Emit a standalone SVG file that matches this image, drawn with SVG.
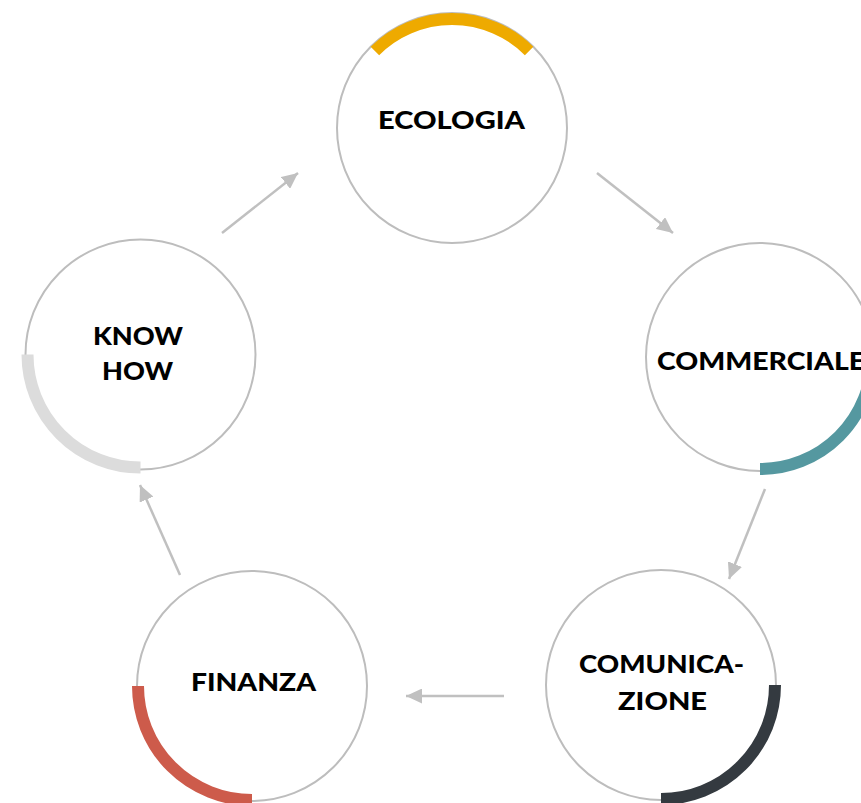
<svg xmlns="http://www.w3.org/2000/svg" width="861" height="803" viewBox="0 0 861 803">
<style>
.ring{fill:#ffffff;stroke:#bdbdbd;stroke-width:2}
.arc{fill:none;stroke-width:12;stroke-linecap:butt}
.lbl{font-family:"Lato","Liberation Sans",sans-serif;font-weight:900;font-size:25px;fill:#000000;text-anchor:middle}
.conn{stroke:#c0c0c0;stroke-width:2.5;fill:none;marker-end:url(#ah)}
</style>
<defs>
<marker id="ah" markerUnits="userSpaceOnUse" markerWidth="17" markerHeight="15" refX="16" refY="7.5" orient="auto">
<path d="M0,0 L16,7.5 L0,15 z" fill="#c0c0c0"/>
</marker>
</defs>
<rect width="861" height="803" fill="#ffffff"/>
<g id="connectors">
<line class="conn" x1="222" y1="233" x2="298" y2="173"/>
<line class="conn" x1="597" y1="173" x2="673" y2="233"/>
<line class="conn" x1="765" y1="489" x2="729" y2="579"/>
<line class="conn" x1="504" y1="696" x2="406" y2="696"/>
<line class="conn" x1="180" y1="575" x2="140" y2="485"/>
</g>
<g id="ecologia">
<circle class="ring" cx="452" cy="128" r="115"/>
<path class="arc" stroke="#eeaa00" d="M374.9 50.9 A109 109 0 0 1 529.1 50.9"/>
<text class="lbl" x="451.5" y="129" textLength="147" lengthAdjust="spacingAndGlyphs">ECOLOGIA</text>
</g>
<g id="commerciale">
<circle class="ring" cx="760" cy="357" r="114"/>
<path class="arc" stroke="#5598a0" d="M872 357 A112 112 0 0 1 760 469"/>
<text class="lbl" x="761" y="370" textLength="208" lengthAdjust="spacingAndGlyphs">COMMERCIALE</text>
</g>
<g id="comunicazione">
<circle class="ring" cx="661" cy="685" r="115"/>
<path class="arc" stroke="#343a40" d="M775 685 A114 114 0 0 1 661 799"/>
<text class="lbl" x="661.5" y="673" textLength="165" lengthAdjust="spacingAndGlyphs">COMUNICA-</text>
<text class="lbl" x="662.5" y="710" textLength="89" lengthAdjust="spacingAndGlyphs">ZIONE</text>
</g>
<g id="finanza">
<circle class="ring" cx="252" cy="686" r="115"/>
<path class="arc" stroke="#cd5b4b" d="M252 800 A114 114 0 0 1 138 686"/>
<text class="lbl" x="253.5" y="691" textLength="125" lengthAdjust="spacingAndGlyphs">FINANZA</text>
</g>
<g id="knowhow">
<circle class="ring" cx="140.5" cy="354.5" r="115"/>
<path class="arc" stroke="#dcdcdc" d="M140.5 467.5 A113 113 0 0 1 27.5 354.5"/>
<text class="lbl" x="138" y="345" textLength="90" lengthAdjust="spacingAndGlyphs">KNOW</text>
<text class="lbl" x="137.5" y="380" textLength="71" lengthAdjust="spacingAndGlyphs">HOW</text>
</g>
</svg>
